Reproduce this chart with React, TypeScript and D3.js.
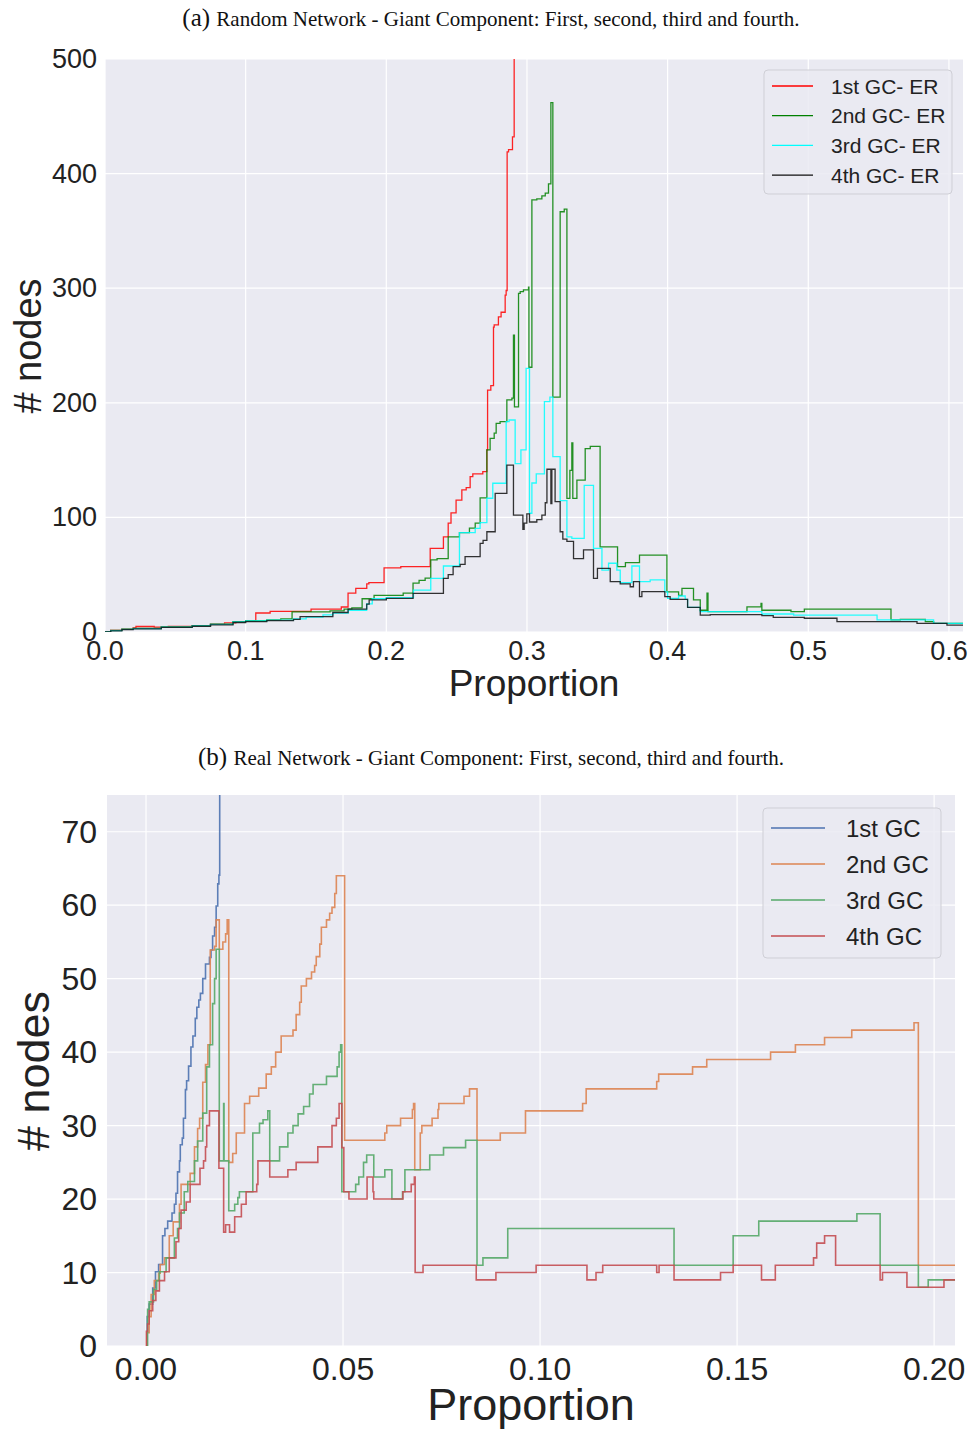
import React from "react";
import * as d3 from "d3";

type Pt = [number, number];

// ---------- (a) Random network ----------
const topTicksX = [0.0, 0.1, 0.2, 0.3, 0.4, 0.5, 0.6];
const topTicksY = [0, 100, 200, 300, 400, 500];
const topNames = ["1st GC- ER", "2nd GC- ER", "3rd GC- ER", "4th GC- ER"];
const topColors = ["#ff0000", "#008000", "#00ffff", "#111111"];

const er1: Pt[] = [[0,0],[0.004,1.5],[0.012,2.5],[0.02,3.5],[0.022,4.8],[0.035,4.2],[0.045,4.8],[0.062,5.5],[0.075,6.9],[0.085,8],[0.093,9],[0.1,9.8],[0.1072,16.6],[0.1174,18],[0.1465,20],[0.168,21.8],[0.1728,34],[0.1783,38],[0.1861,42],[0.1876,43],[0.1984,56],[0.2103,57],[0.2312,73],[0.2406,83],[0.244,95],[0.246,104],[0.2496,115],[0.2537,124],[0.2568,126],[0.2596,135.5],[0.2615,138],[0.2686,140],[0.2715,159],[0.272,211],[0.2743,215],[0.2762,266],[0.2767,268],[0.2797,275],[0.2816,279],[0.2845,294],[0.2852,298],[0.2859,419],[0.2869,421],[0.2897,432],[0.2909,540]];
const er2: Pt[] = [[0,0],[0.004,1.5],[0.012,2.5],[0.02,3.2],[0.04,4.5],[0.062,5.5],[0.075,6.9],[0.091,9],[0.1,9.8],[0.115,10.5],[0.125,11.5],[0.133,17.5],[0.16,18.5],[0.17,20],[0.1755,21],[0.1828,29],[0.1913,32],[0.212,34],[0.219,42.6],[0.2233,45],[0.2276,47],[0.2316,63],[0.2361,64],[0.244,83],[0.252,86.7],[0.2591,90.7],[0.2632,95],[0.2667,117],[0.2715,159],[0.2738,169],[0.2767,173.6],[0.2781,182],[0.2809,183.5],[0.2857,202.5],[0.2893,204],[0.2904,259],[0.2911,196.5],[0.294,295.5],[0.2952,297],[0.2975,298.6],[0.3011,301],[0.3014,231],[0.3035,377],[0.307,378],[0.3106,380.5],[0.313,383],[0.3153,391],[0.317,462],[0.3184,205],[0.3236,366.7],[0.3265,369],[0.3284,116.6],[0.3305,141],[0.3319,165],[0.3326,116.6],[0.3355,132.5],[0.3414,160],[0.345,162],[0.352,74.3],[0.3644,57],[0.37,60.5],[0.38,67],[0.3995,35],[0.4078,32],[0.4102,38],[0.4184,28],[0.4232,19],[0.428,34],[0.4287,17.7],[0.4564,22],[0.4664,25],[0.467,19],[0.4877,17.7],[0.4972,20],[0.5588,10.5],[0.5654,11],[0.5832,9],[0.5891,7.5],[0.61,7.5]];
const er3: Pt[] = [[0,0],[0.004,1.2],[0.012,2.3],[0.02,3],[0.04,4.3],[0.062,5.3],[0.075,6.7],[0.091,8.8],[0.1,9.6],[0.115,10.3],[0.134,11.5],[0.143,13],[0.155,15],[0.162,16.5],[0.173,19],[0.186,24.5],[0.19,29],[0.2,30],[0.2193,36.6],[0.2316,46.8],[0.2406,57.6],[0.252,86.7],[0.2632,90.5],[0.2667,95.4],[0.2715,116.7],[0.2757,129.8],[0.2852,183.5],[0.2873,185],[0.2916,147],[0.2957,159],[0.2994,230],[0.3018,103.6],[0.3035,130],[0.3066,138],[0.3124,201],[0.3163,205],[0.3184,153],[0.3236,114.6],[0.3284,83],[0.3319,81.7],[0.3407,128],[0.3473,73],[0.3533,54],[0.358,60],[0.3639,54],[0.3663,43],[0.3746,57.6],[0.38,44],[0.3876,45.4],[0.398,35],[0.4,29.3],[0.4078,31.4],[0.4125,28.5],[0.4142,21.5],[0.4232,17.7],[0.467,15.7],[0.4896,14.8],[0.5489,10.5],[0.5891,7.5],[0.61,7.5]];
const er4: Pt[] = [[0,0],[0.004,1],[0.012,2],[0.02,2.8],[0.04,4],[0.062,5],[0.075,6.3],[0.091,8.3],[0.1,9],[0.115,10],[0.134,11],[0.1387,13.4],[0.162,17],[0.1728,20],[0.1861,24.4],[0.1878,28],[0.2,29.3],[0.219,33.7],[0.2406,46.8],[0.244,50],[0.2475,57],[0.2525,59],[0.256,65.7],[0.2667,77.3],[0.2688,80],[0.2715,87.5],[0.2774,121],[0.2857,145.7],[0.2904,102],[0.2971,89.6],[0.298,95],[0.2999,103],[0.3018,96],[0.307,98],[0.3106,102],[0.313,112.8],[0.3142,142],[0.317,112],[0.3177,142],[0.32,113.7],[0.3236,87.5],[0.3255,81],[0.3284,79],[0.3331,64],[0.3402,71.6],[0.3473,46.8],[0.3501,55.5],[0.3592,44],[0.3663,42],[0.3734,39.5],[0.3757,44],[0.38,30.8],[0.3817,35.2],[0.398,30.8],[0.4018,28.5],[0.4142,21.5],[0.4232,14.8],[0.4303,15.2],[0.467,14.3],[0.4751,12.8],[0.4972,12],[0.5204,9],[0.5773,7.5],[0.5986,6],[0.61,6]];
const topSeries = [er1, er2, er3, er4];

// ---------- (b) Real network ----------
const botTicksX = [0.0, 0.05, 0.1, 0.15, 0.2];
const botTickLabelsX = ["0.00", "0.05", "0.10", "0.15", "0.20"];
const botTicksY = [0, 10, 20, 30, 40, 50, 60, 70];
const botNames = ["1st GC", "2nd GC", "3rd GC", "4th GC"];
const botColors = ["#4C72B0", "#DD8452", "#55A868", "#C44E52"];

const gc1: Pt[] = [[0,0],[0.0003,4],[0.0008,5.7],[0.0017,7.9],[0.0024,10.1],[0.0032,11.1],[0.0042,15],[0.0048,16],[0.0055,17],[0.0066,18.1],[0.0072,19.3],[0.0076,20.8],[0.008,23.7],[0.0085,25.2],[0.0087,27.4],[0.0092,28.3],[0.0095,31],[0.01,34.9],[0.0103,36.1],[0.0108,38.1],[0.0114,40.7],[0.0119,42.2],[0.0125,44.6],[0.0129,46.1],[0.0134,47.1],[0.0138,48],[0.0144,50],[0.0151,52],[0.0161,52.9],[0.0165,53.9],[0.0169,55.8],[0.0174,57],[0.0178,59.9],[0.0182,62.9],[0.0185,64.1],[0.0187,80]];
const gc2: Pt[] = [[0,0],[0.0002,1.8],[0.0008,4],[0.0013,7],[0.0021,8.9],[0.0032,9.9],[0.0036,11.1],[0.0047,12],[0.0059,15],[0.0069,16.9],[0.0085,19.3],[0.0089,22],[0.0112,23.5],[0.0123,27.1],[0.0131,29.6],[0.0136,31],[0.0144,35.9],[0.0151,38.3],[0.0157,41],[0.0163,53.9],[0.0174,54.4],[0.0178,58],[0.0186,54],[0.0195,55],[0.0202,56.1],[0.0206,58],[0.021,25],[0.022,26.2],[0.0229,29],[0.025,33],[0.0263,34],[0.0286,35.1],[0.0305,37],[0.0318,38],[0.0329,40],[0.0343,42.2],[0.0373,43],[0.0381,45.1],[0.039,46.8],[0.0394,49],[0.0407,50],[0.042,50.9],[0.0428,51.8],[0.0432,53],[0.0441,54.7],[0.0445,57],[0.0458,58],[0.0466,58.9],[0.0472,59.7],[0.0479,61.6],[0.0483,64],[0.0504,28],[0.0606,29],[0.0611,30],[0.0646,31],[0.0676,32.2],[0.0679,33],[0.0682,24],[0.0696,29],[0.07,30],[0.0726,31],[0.0741,32.2],[0.0743,33],[0.0807,34],[0.0821,35],[0.084,28],[0.0899,29],[0.0963,32],[0.1108,33],[0.1117,35],[0.1296,36],[0.1301,37],[0.1387,38],[0.1423,39],[0.1585,40],[0.1648,41],[0.1722,42],[0.1791,43],[0.1949,44],[0.196,11],[0.2053,11]];
const gc3: Pt[] = [[0,0],[0.0004,5],[0.0008,6],[0.0019,7.7],[0.0027,8.9],[0.0034,10.1],[0.0051,12],[0.0072,14.7],[0.008,16],[0.0085,18.1],[0.0097,21],[0.0106,22.4],[0.0123,25.2],[0.0131,27.9],[0.0144,31.7],[0.0154,38],[0.0161,41],[0.0169,46.6],[0.0174,50],[0.0178,54],[0.0186,25.2],[0.0197,33],[0.0198,25.2],[0.021,18.4],[0.0225,19.3],[0.0233,20.2],[0.0237,21],[0.0271,29],[0.0288,30.3],[0.0297,30.8],[0.0309,32],[0.0314,25.2],[0.0339,27.1],[0.036,29],[0.0373,30],[0.0386,31.6],[0.04,32.6],[0.0415,34.3],[0.0424,35.6],[0.0458,36.7],[0.0485,38],[0.049,40],[0.0494,41],[0.0497,21],[0.0532,22],[0.054,23],[0.0552,25],[0.056,26],[0.0578,23],[0.0606,24],[0.0624,20],[0.0651,21],[0.0657,24],[0.072,26],[0.0755,27],[0.0811,28],[0.084,11],[0.0855,12],[0.0918,16],[0.134,11],[0.149,15],[0.1555,17],[0.1804,18],[0.1863,11],[0.196,8],[0.1985,9],[0.2053,9]];
const gc4: Pt[] = [[0,0],[0.0001,2],[0.0004,3],[0.0008,4.8],[0.0017,6.2],[0.0025,7.5],[0.0034,8.9],[0.0047,10.1],[0.0059,12],[0.0076,14.2],[0.0083,16],[0.0089,18.5],[0.0102,19.6],[0.0112,22],[0.0137,24.2],[0.0146,25.2],[0.0151,27.1],[0.0154,30],[0.0161,32],[0.0185,24.2],[0.0197,15.5],[0.0202,16.5],[0.0212,15.5],[0.0225,17.6],[0.0242,19.3],[0.0254,21],[0.0281,22],[0.0284,25.2],[0.0314,23],[0.036,24],[0.0381,25],[0.0436,27.1],[0.0472,30],[0.0483,31],[0.049,33],[0.0497,27],[0.0502,21],[0.0515,20],[0.0561,23],[0.0576,21],[0.0578,20],[0.0652,21],[0.0673,22],[0.0681,23],[0.0683,10],[0.0703,11],[0.0838,9],[0.0888,10],[0.099,11],[0.1119,9],[0.1142,10],[0.1159,11],[0.1296,10],[0.1302,11],[0.134,9],[0.1458,10],[0.149,11],[0.1562,9],[0.1597,11],[0.1694,12],[0.1702,14],[0.1722,15],[0.175,11],[0.1863,9],[0.1869,10],[0.1931,8],[0.2025,9],[0.2053,9]];
const botSeries = [gc1, gc2, gc3, gc4];

const SANS = "'Liberation Sans', Arial, 'DejaVu Sans', sans-serif";
const SERIF = "'Liberation Serif', 'Times New Roman', serif";
const BG = "#EAEAF2";

export default function App() {
  const xT = d3.scaleLinear().domain([0, 0.61]).range([105, 963]);
  const yT = d3.scaleLinear().domain([0, 500]).range([632, 59]);
  const xB = d3.scaleLinear().domain([-0.0099, 0.2053]).range([107, 955]);
  const yB = d3.scaleLinear().domain([0, 75]).range([1346, 795]);

  const lineT = d3.line<Pt>().x(d => xT(d[0])).y(d => yT(d[1])).curve(d3.curveStepAfter);
  const lineB = d3.line<Pt>().x(d => xB(d[0])).y(d => yB(d[1])).curve(d3.curveStepAfter);

  return (
    <svg width={972} height={1432} style={{ position: "absolute", left: 0, top: 0 }}
      xmlns="http://www.w3.org/2000/svg">
      <rect x={0} y={0} width={972} height={1432} fill="#ffffff" />
      <defs>
        <clipPath id="clipT"><rect x={105} y={59} width={858} height={573} /></clipPath>
        <clipPath id="clipB"><rect x={107} y={795} width={848} height={551} /></clipPath>
      </defs>

      {/* Title a */}
      <text x={491} y={26} textAnchor="middle" fontFamily={SERIF} fill="#111">
        <tspan fontSize={25}>(a) </tspan><tspan fontSize={21}>Random Network - Giant Component: First, second, third and fourth.</tspan>
      </text>

      {/* Top plot */}
      <rect x={105} y={59} width={858} height={573} fill={BG} />
      {topTicksX.map(t => (
        <line key={"gx" + t} x1={xT(t)} x2={xT(t)} y1={59} y2={632} stroke="#fff" strokeWidth={1.2} />
      ))}
      {topTicksY.map(t => (
        <line key={"gy" + t} x1={105} x2={963} y1={yT(t)} y2={yT(t)} stroke="#fff" strokeWidth={1.2} />
      ))}
      <g clipPath="url(#clipT)">
        {topSeries.map((s, i) => (
          <path key={"t" + i} d={lineT(s) || ""} fill="none" stroke={topColors[i]} strokeWidth={1.3} strokeOpacity={0.85} />
        ))}
      </g>
      {topTicksX.map(t => (
        <text key={"tx" + t} x={xT(t)} y={660} textAnchor="middle" fontFamily={SANS} fontSize={27} fill="#222">{t.toFixed(1)}</text>
      ))}
      {topTicksY.map(t => (
        <text key={"ty" + t} x={97} y={yT(t)} textAnchor="end" dominantBaseline="central" fontFamily={SANS} fontSize={27} fill="#222">{t}</text>
      ))}
      <text x={534} y={696} textAnchor="middle" fontFamily={SANS} fontSize={37} fill="#222">Proportion</text>
      <text transform="translate(28,346) rotate(-90)" textAnchor="middle" dominantBaseline="central" fontFamily={SANS} fontSize={38} fill="#222"># nodes</text>

      {/* Top legend */}
      <rect x={764} y={70} width={188} height={124} rx={4} fill={BG} fillOpacity={0.85} stroke="#cfcfd6" strokeWidth={1} />
      {topNames.map((n, i) => (
        <g key={"lt" + i}>
          <line x1={772} x2={813} y1={86 + i * 29.7} y2={86 + i * 29.7} stroke={topColors[i]} strokeWidth={1.3} />
          <text x={831} y={86 + i * 29.7} dominantBaseline="central" fontFamily={SANS} fontSize={21} fill="#222">{n}</text>
        </g>
      ))}

      {/* Title b */}
      <text x={491} y={765} textAnchor="middle" fontFamily={SERIF} fill="#111">
        <tspan fontSize={25}>(b) </tspan><tspan fontSize={21}>Real Network - Giant Component: First, second, third and fourth.</tspan>
      </text>

      {/* Bottom plot */}
      <rect x={107} y={795} width={848} height={551} fill={BG} />
      {botTicksX.map(t => (
        <line key={"bgx" + t} x1={xB(t)} x2={xB(t)} y1={795} y2={1346} stroke="#fff" strokeWidth={1.2} />
      ))}
      {botTicksY.map(t => (
        <line key={"bgy" + t} x1={107} x2={955} y1={yB(t)} y2={yB(t)} stroke="#fff" strokeWidth={1.2} />
      ))}
      <g clipPath="url(#clipB)">
        {botSeries.map((s, i) => (
          <path key={"b" + i} d={lineB(s) || ""} fill="none" stroke={botColors[i]} strokeWidth={1.6} strokeOpacity={0.9} />
        ))}
      </g>
      {botTicksX.map((t, i) => (
        <text key={"bx" + t} x={xB(t)} y={1380} textAnchor="middle" fontFamily={SANS} fontSize={32} fill="#222">{botTickLabelsX[i]}</text>
      ))}
      {botTicksY.map(t => (
        <text key={"by" + t} x={97} y={yB(t)} textAnchor="end" dominantBaseline="central" fontFamily={SANS} fontSize={32} fill="#222">{t}</text>
      ))}
      <text x={531} y={1420} textAnchor="middle" fontFamily={SANS} fontSize={45} fill="#222">Proportion</text>
      <text transform="translate(33,1071) rotate(-90)" textAnchor="middle" dominantBaseline="central" fontFamily={SANS} fontSize={45} fill="#222"># nodes</text>

      {/* Bottom legend */}
      <rect x={763} y={808} width={178} height={150} rx={4} fill={BG} fillOpacity={0.85} stroke="#cfcfd6" strokeWidth={1} />
      {botNames.map((n, i) => (
        <g key={"lb" + i}>
          <line x1={771} x2={825} y1={828 + i * 36} y2={828 + i * 36} stroke={botColors[i]} strokeWidth={1.6} />
          <text x={846} y={828 + i * 36} dominantBaseline="central" fontFamily={SANS} fontSize={24} fill="#222">{n}</text>
        </g>
      ))}
    </svg>
  );
}
